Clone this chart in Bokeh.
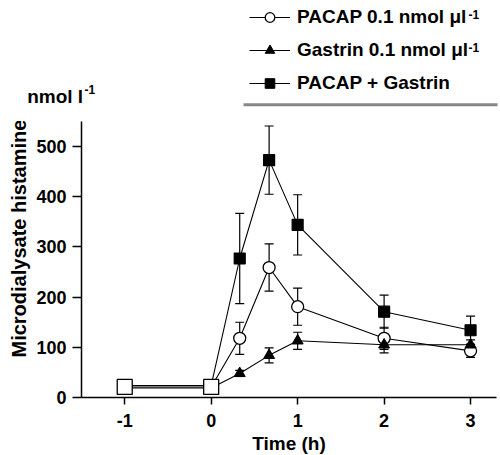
from bokeh.plotting import figure
from bokeh.layouts import column
from bokeh.models import (ColumnDataSource, Whisker, TeeHead, Legend, LegendItem,
                          Label, BoxAnnotation, FixedTicker, Range1d, Title)
from bokeh.embed import file_html
from bokeh.resources import INLINE

# ---------------- data ----------------
time_h = [-1, 0, 0.33, 0.67, 1, 2, 3]
pacap = [21, 21, 118, 259, 181, 118, 93]
pacap_err = [0, 0, 32, 47, 37, 22, 13]
gastrin = [19, 19, 48, 84, 113, 105, 105]
gastrin_err = [0, 0, 6, 15, 17, 16, 10]
combo = [24, 24, 277, 473, 344, 171, 134]
combo_err = [0, 0, 90, 68, 60, 33, 28]
baseline_x = [-1, 0]
baseline_y = [21, 21]

x_ticks = [-1, 0, 1, 2, 3]
y_ticks = [0, 100, 200, 300, 400, 500]

legend_labels = ["PACAP 0.1 nmol \u03bcl", "Gastrin 0.1 nmol \u03bcl", "PACAP + Gastrin"]
FONT = "Liberation Sans"
NAN = [float("nan")]

# ---------------- top strip: legend + unit label ----------------
top = figure(width=500, height=121, x_range=Range1d(0, 500), y_range=Range1d(0, 121),
             x_axis_location=None, y_axis_location=None,
             output_backend="svg", toolbar_location=None, frame_align=False,
             min_border_left=0, min_border_right=0, min_border_top=0, min_border_bottom=0)
top.xgrid.visible = False
top.ygrid.visible = False
top.outline_line_color = None

# legend proxies (no visible data)
tl_p = top.line(x=NAN, y=NAN, line_color="black", line_width=1.1)
ts_p = top.scatter(x=NAN, y=NAN, marker="circle", fill_color="white", line_color="black", line_width=1.3)
tl_g = top.line(x=NAN, y=NAN, line_color="black", line_width=1.1)
ts_g = top.scatter(x=NAN, y=NAN, marker="triangle", fill_color="black", line_color="black")
tl_c = top.line(x=NAN, y=NAN, line_color="black", line_width=1.1)
ts_c = top.scatter(x=NAN, y=NAN, marker="square", fill_color="black", line_color="black")

legend = Legend(items=[LegendItem(label=legend_labels[0], renderers=[tl_p, ts_p]),
                       LegendItem(label=legend_labels[1], renderers=[tl_g, ts_g]),
                       LegendItem(label=legend_labels[2], renderers=[tl_c, ts_c])],
                location=(249, 26.5), orientation="vertical",
                glyph_width=41, glyph_height=24, label_height=24, spacing=9,
                padding=0, margin=0, label_standoff=7,
                border_line_color=None, background_fill_alpha=0,
                label_text_font=FONT, label_text_font_style="bold",
                label_text_font_size="19px", label_text_color="black")
top.add_layout(legend)

def lab(fig, x, y, text, size):
    fig.add_layout(Label(x=x, y=y, x_units="screen", y_units="screen", text=text,
                         text_font=FONT, text_font_style="bold", text_font_size=size,
                         text_color="black", text_baseline="alphabetic", text_align="left"))

lab(top, 468, 107, "-1", "12px")
lab(top, 468, 74, "-1", "12px")
lab(top, 26.7, 25, "nmol l", "19px")
lab(top, 84, 31.7, "-1", "12px")

top.add_layout(BoxAnnotation(left=243, right=497, bottom=15.2, top=18.2,
                             left_units="screen", right_units="screen",
                             bottom_units="screen", top_units="screen",
                             fill_color="#888888", fill_alpha=1, line_color=None))

# ---------------- main chart ----------------
p = figure(frame_width=415, frame_height=276, x_range=Range1d(-1.5, 3.3), y_range=Range1d(0, 550),
           output_backend="svg", toolbar_location=None, frame_align=False,
           min_border_left=81, min_border_right=4, min_border_top=0, min_border_bottom=0)
p.xgrid.visible = False
p.ygrid.visible = False
p.outline_line_color = None
p.background_fill_color = "white"
p.border_fill_color = "white"

for ax in (p.xaxis[0], p.yaxis[0]):
    ax.axis_line_width = 1.5
    ax.axis_line_color = "black"
    ax.major_tick_line_width = 1.5
    ax.major_tick_line_color = "black"
    ax.major_tick_in = 0
    ax.minor_tick_line_color = None
    ax.major_label_text_font = FONT
    ax.major_label_text_font_style = "bold"
    ax.major_label_text_font_size = "18px"
    ax.major_label_text_color = "black"
    ax.axis_label_text_font = FONT
    ax.axis_label_text_font_style = "bold"
    ax.axis_label_text_font_size = "19px"
    ax.axis_label_text_color = "black"

p.xaxis.ticker = FixedTicker(ticks=x_ticks)
p.yaxis.ticker = FixedTicker(ticks=y_ticks)
p.xaxis.major_label_overrides = {t: str(t) for t in x_ticks}
p.xaxis.major_tick_out = 7
p.yaxis.major_tick_out = 9
p.xaxis.major_label_standoff = 9
p.yaxis.major_label_standoff = 6
p.xaxis.axis_label = "Time (h)"
p.xaxis.axis_label_standoff = 3

p.add_layout(Title(text="Microdialysate histamine", align="left", offset=40, standoff=8,
                   text_font=FONT, text_font_style="bold", text_font_size="20px",
                   text_color="black"), "left")

# error bars
def whisker(vals, errs):
    idx = [i for i in range(len(time_h)) if errs[i] > 0]
    src = ColumnDataSource(dict(x=[time_h[i] for i in idx],
                                upper=[vals[i] + errs[i] for i in idx],
                                lower=[vals[i] - errs[i] for i in idx]))
    w = Whisker(base="x", upper="upper", lower="lower", source=src, dimension="height",
                line_width=1.2, line_color="black",
                upper_head=TeeHead(size=9, line_width=1.2, line_color="black"),
                lower_head=TeeHead(size=9, line_width=1.2, line_color="black"))
    p.add_layout(w)

whisker(combo, combo_err)
whisker(pacap, pacap_err)
whisker(gastrin, gastrin_err)

# lines
p.line(time_h, combo, line_color="black", line_width=1.1)
p.line(time_h, pacap, line_color="black", line_width=1.1)
p.line(time_h, gastrin, line_color="black", line_width=1.1)

# markers (after time 0)
xs = time_h[2:]
p.scatter(xs, combo[2:], marker="square", size=11, fill_color="black",
          line_color="black", line_width=1.2)
p.scatter(xs, pacap[2:], marker="circle", size=12, fill_color="white",
          line_color="black", line_width=1.3)
p.scatter(xs, gastrin[2:], marker="triangle", size=11, fill_color="black",
          line_color="black", line_width=1.0)
p.scatter(baseline_x, baseline_y, marker="square", size=15, fill_color="white",
          line_color="black", line_width=1.3)

layout = column(top, p, spacing=0)
open("out.html", "w").write(file_html(layout, INLINE))
